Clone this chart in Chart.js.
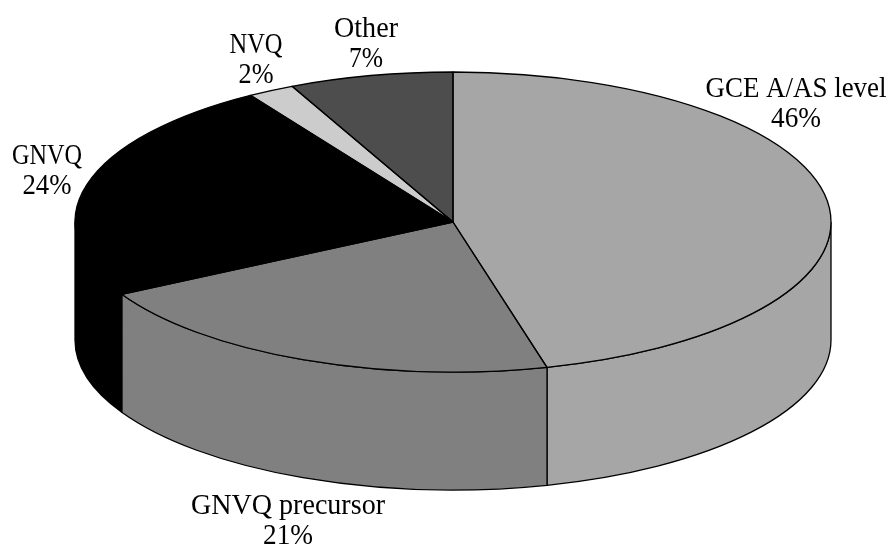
<!DOCTYPE html>
<html>
<head>
<meta charset="utf-8">
<style>
html, body { margin: 0; padding: 0; background: #fff; }
canvas { display: block; }
</style>
<script src="https://cdn.jsdelivr.net/npm/chart.js@4"></script>
</head>
<body>
<canvas id="canvas" width="888" height="547"></canvas>
<script>
var categories = ['GCE A/AS level', 'GNVQ precursor', 'GNVQ', 'NVQ', 'Other'];
var shares = [46, 21, 24, 2, 7];
var greys = ['#a6a6a6', '#808080', '#000000', '#cccccc', '#4d4d4d'];

// each label: centre x, baseline of first line, width of name, width of percent
var labelSpots = [
    [796, 97, 181, 50],
    [288, 514, 194, 50],
    [47, 164, 70, 49],
    [256, 53, 53, 35],
    [366, 37, 64, 34]
];

var radiusX = 378, radiusY = 150, depth = 118;

function squash(ctx, el) {
    ctx.translate(el.x, el.y);
    ctx.scale(radiusX / el.outerRadius, radiusY / el.outerRadius);
    ctx.translate(-el.x, -el.y);
}

// the pie is a flat circle, this tips it over and adds the side wall
var tiltPlugin = {
    id: 'tilt',
    beforeDatasetsDraw: function(chart) {
        var ctx = chart.ctx;
        var arcs = chart.getDatasetMeta(0).data;
        arcs.forEach(function(el, i) {
            var a0 = Math.max(el.startAngle, 0);
            var a1 = Math.min(el.endAngle, Math.PI);
            if (a0 >= a1) return;
            var down = depth * el.outerRadius / radiusY;
            ctx.save();
            ctx.beginPath();
            ctx.save();
            squash(ctx, el);
            ctx.arc(el.x, el.y, el.outerRadius, a0, a1);
            ctx.arc(el.x, el.y + down, el.outerRadius, a1, a0, true);
            ctx.closePath();
            ctx.restore();
            ctx.fillStyle = greys[i];
            ctx.fill();
            ctx.strokeStyle = '#000';
            ctx.lineWidth = 1.3;
            ctx.stroke();
            ctx.restore();
        });
        ctx.save();
        squash(ctx, arcs[0]);
    },
    afterDatasetsDraw: function(chart) {
        var ctx = chart.ctx;
        ctx.restore();
        chart.getDatasetMeta(0).data.forEach(function(el, i) {
            ctx.save();
            ctx.beginPath();
            ctx.save();
            squash(ctx, el);
            ctx.moveTo(el.x, el.y);
            ctx.arc(el.x, el.y, el.outerRadius, el.startAngle, el.endAngle);
            ctx.closePath();
            ctx.restore();
            ctx.strokeStyle = '#000';
            ctx.lineWidth = 1.3;
            ctx.lineJoin = 'round';
            ctx.stroke();
            ctx.restore();

            var spot = labelSpots[i];
            ctx.save();
            ctx.fillStyle = '#000';
            ctx.font = '29px "Liberation Serif"';
            ctx.textAlign = 'center';
            ctx.fillText(categories[i], spot[0], spot[1], spot[2]);
            ctx.fillText(shares[i] + '%', spot[0], spot[1] + 30, spot[3]);
            ctx.restore();
        });
    }
};

window.onload = function() {
    var ctx = document.getElementById("canvas").getContext("2d");
    window.myPie = new Chart(ctx, {
        type: 'pie',
        data: {
            labels: categories,
            datasets: [{
                data: shares,
                backgroundColor: greys,
                borderWidth: 0,
                clip: false
            }]
        },
        options: {
            responsive: false,
            animation: false,
            layout: { padding: { left: 18, top: 0, right: 0, bottom: 103 } },
            plugins: { legend: { display: false }, tooltip: { enabled: false } }
        },
        plugins: [tiltPlugin]
    });
};
</script>
</body>
</html>
